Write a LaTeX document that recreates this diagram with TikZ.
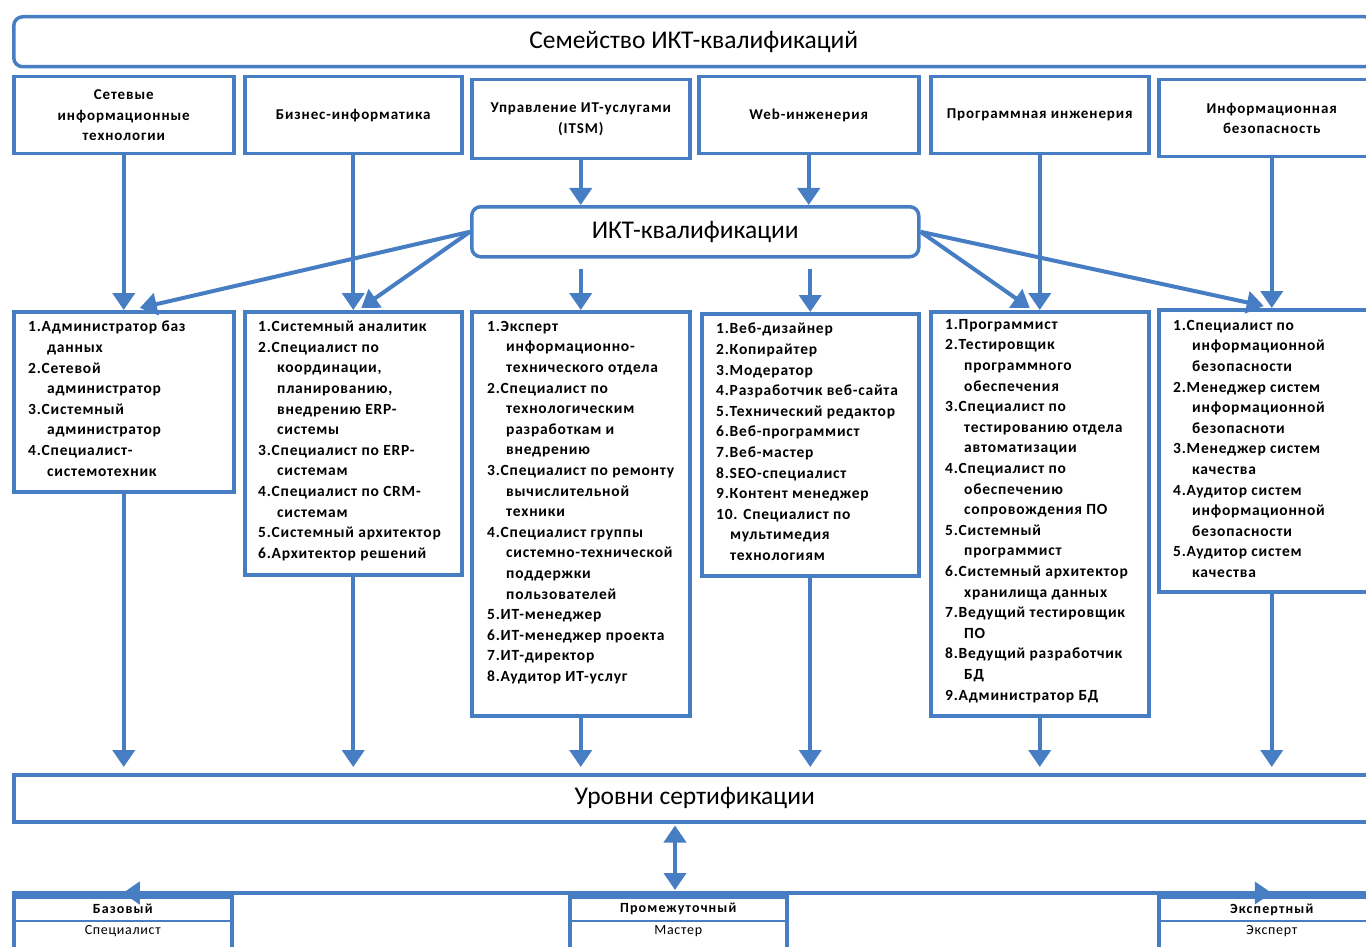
\documentclass[tikz,border=0pt]{standalone}
\usepackage{fontspec}
\setmainfont{Carlito}
\newfontfamily\lsA[LetterSpace=5]{Carlito}
\newfontfamily\lsB[LetterSpace=6]{Carlito}
\newfontfamily\lsC[LetterSpace=8]{Carlito}
\usetikzlibrary{arrows.meta,calc}
\definecolor{bl}{RGB}{70,125,195}
\tikzset{
 box/.style={draw=bl, line width=3.5pt, fill=white, inner sep=0pt, anchor=north west},
 rbox/.style={box, rounded corners=9pt},
 arr/.style={draw=bl, line width=4pt, -{Triangle[width=22pt,length=17pt]}},
 lst/.style={anchor=north west, align=left, font=\lsA\fontsize{15.5}{20.6}\selectfont\bfseries, inner sep=0pt},
 cat/.style={align=center, font=\lsB\fontsize{15}{20.5}\selectfont\bfseries},
 big/.style={font=\fontsize{25.5}{28}\selectfont},
 lvl/.style={font=\lsC\fontsize{14}{16}\selectfont\bfseries},
 lvlb/.style={font=\lsA\fontsize{14}{16}\selectfont},
}
\newcommand\ind{\hspace*{19pt}}
\begin{document}
\begin{tikzpicture}[x=1pt,y=-1pt]
\useasboundingbox (0,0) rectangle (1366,947);
\clip (0,0) rectangle (1366,947);
% family
\node[rbox, minimum width=1360, minimum height=50, big] (fam) at (12,15) {Семейство ИКТ-квалификаций};
% categories
\node[box, minimum width=220, minimum height=77, cat] (c1) at (12,75) {Сетевые\\информационные\\технологии};
\node[box, minimum width=217, minimum height=77, cat] (c2) at (243,75) {Бизнес-информатика};
\node[box, minimum width=218, minimum height=79, cat] (c3) at (470,78) {Управление ИТ-услугами\\(ITSM)};
\node[box, minimum width=220, minimum height=77, cat] (c4) at (697,75) {Web-инженерия};
\node[box, minimum width=218, minimum height=77, cat] (c5) at (929,75) {Программная инженерия};
\node[box, minimum width=226, minimum height=77, cat] (c6) at (1157,78) {Информационная\\безопасность};
% ICT
\node[rbox, minimum width=447, minimum height=50, big] (ikt) at (470,205) {ИКТ-квалификации};
% lists
\node[box, minimum width=220, minimum height=180] (L1) at (12,310) {};
\node[box, minimum width=217, minimum height=263] (L2) at (243,310) {};
\node[box, minimum width=218, minimum height=404] (L3) at (470,310) {};
\node[box, minimum width=217, minimum height=262] (L4) at (700,312) {};
\node[box, minimum width=218, minimum height=404] (L5) at (929,310) {};
\node[box, minimum width=226, minimum height=282] (L6) at (1157,308) {};
\node[lst] (L1t) at (28,321) {1.Администратор баз\\\ind данных\\2.Сетевой\\\ind администратор\\3.Системный\\\ind администратор\\4.Специалист-\\\ind системотехник};
\node[lst] (L2t) at (258,321) {1.Системный аналитик\\2.Специалист по\\\ind координации,\\\ind планированию,\\\ind внедрению ERP-\\\ind системы\\3.Специалист по ERP-\\\ind системам\\4.Специалист по CRM-\\\ind системам\\5.Системный архитектор\\6.Архитектор решений};
\node[lst] (L3t) at (487,321) {1.Эксперт\\\ind информационно-\\\ind технического отдела\\2.Специалист по\\\ind технологическим\\\ind разработкам и\\\ind внедрению\\3.Специалист по ремонту\\\ind вычислительной\\\ind техники\\4.Специалист группы\\\ind системно-технической\\\ind поддержки\\\ind пользователей\\5.ИТ-менеджер\\6.ИТ-менеджер проекта\\7.ИТ-директор\\8.Аудитор ИТ-услуг};
\node[lst] (L4t) at (716,323) {1.Веб-дизайнер\\2.Копирайтер\\3.Модератор\\4.Разработчик веб-сайта\\5.Технический редактор\\6.Веб-программист\\7.Веб-мастер\\8.SEO-специалист\\9.Контент менеджер\\10. Специалист по\\\hspace*{14pt}мультимедия\\\hspace*{14pt}технологиям};
\node[lst] (L5t) at (945,319) {1.Программист\\2.Тестировщик\\\ind программного\\\ind обеспечения\\3.Специалист по\\\ind тестированию отдела\\\ind автоматизации\\4.Специалист по\\\ind обеспечению\\\ind сопровождения ПО\\5.Системный\\\ind программист\\6.Системный архитектор\\\ind хранилища данных\\7.Ведущий тестировщик\\\ind ПО\\8.Ведущий разработчик\\\ind БД\\9.Администратор БД};
\node[lst] (L6t) at (1173,320) {1.Специалист по\\\ind информационной\\\ind безопасности\\2.Менеджер систем\\\ind информационной\\\ind безопасноти\\3.Менеджер систем\\\ind качества\\4.Аудитор систем\\\ind информационной\\\ind безопасности\\5.Аудитор систем\\\ind качества};
% levels
\node[box, minimum width=1362, minimum height=47, big] (U) at (12,773) {Уровни сертификации};
\coordinate (hub) at (675,893);
\node[box, minimum width=218, minimum height=70] (B) at (12,895) {};
\node[box, minimum width=217, minimum height=70] (P) at (568,895) {};
\node[box, minimum width=226, minimum height=70] (E) at (1157,895) {};
\foreach \n in {B,P,E}{\draw[bl, line width=2pt] (\n.west |- 0,921) -- (\n.east |- 0,921);}
\node[lvl] (Bt) at ($(B.north)+(0,14)$) {Базовый};
\node[lvlb] (Bs) at ($(B.north)+(0,36)$) {Специалист};
\node[lvl] (Pt) at ($(P.north)+(0,14)$) {Промежуточный};
\node[lvlb] (Ps) at ($(P.north)+(0,36)$) {Мастер};
\node[lvl] (Et) at ($(E.north)+(0,15)$) {Экспертный};
\node[lvlb] (Es) at ($(E.north)+(0,36)$) {Эксперт};
\draw[bl, line width=4pt] (12,893) -- (1366,893);
% arrows top
\draw[arr] (c1.south) -- (L1.north);
\draw[arr] (c2.south) -- (L2.north);
\draw[arr] (c3.south) -- (ikt.north -| c3.south);
\draw[arr] (c4.south) -- (ikt.north -| c4.south);
\draw[arr] (c5.south) -- (L5.north);
\draw[arr] (c6.south) -- (L6.north);
\draw[arr] (ikt.west) -- ($(L1.north)+(16,-2)$);
\draw[arr] (ikt.west) -- ($(L2.north)+(8,-2)$);
\draw[arr] (ikt.east) -- ($(L5.north)+(-10,-2)$);
\draw[arr] (ikt.east) -- ($(L6.north)+(-8,-2)$);
\draw[arr] ($(ikt.south -| L3.north)+(0,10)$) -- (L3.north);
\draw[arr] ($(ikt.south -| L4.north)+(0,10)$) -- (L4.north);
% lists to levels
\foreach \n in {L1,L2,L3,L4,L5,L6}{\draw[arr, shorten >=6pt] (\n.south) -- (\n.south |- U.north);}
% bottom
\draw[arr, {Triangle[width=22pt,length=17pt]}-{Triangle[width=22pt,length=17pt]}, shorten <=2pt, shorten >=3pt] (U.south -| hub) -- (hub);
\draw[arr] (hub) -- (hub -| B.north);
\draw[arr] (hub) -- (hub -| E.north);
\end{tikzpicture}
\end{document}
